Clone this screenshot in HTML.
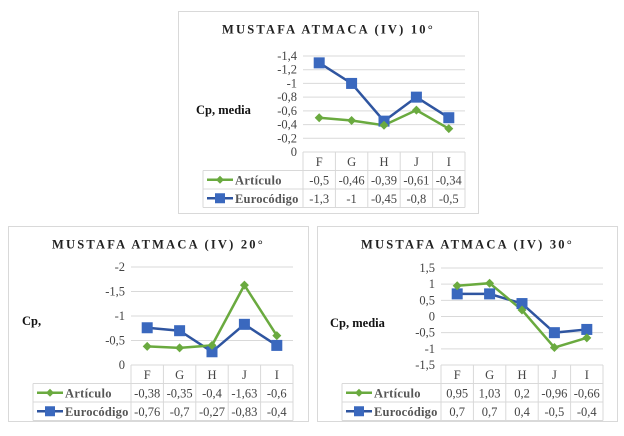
<!DOCTYPE html>
<html><head><meta charset="utf-8"><style>
body{margin:0;background:#fff;width:624px;height:431px;overflow:hidden;font-family:"Liberation Serif",serif}
svg text{font-family:"Liberation Serif",serif}
</style></head><body>
<svg id="s" width="624" height="431" viewBox="0 0 624 431" xmlns="http://www.w3.org/2000/svg"></svg>
<script>
const categories=["F","G","H","J","I"];
const art10=[-0.5,-0.46,-0.39,-0.61,-0.34];
const euro10=[-1.3,-1,-0.45,-0.8,-0.5];
const lab10a=["-0,5","-0,46","-0,39","-0,61","-0,34"];
const lab10e=["-1,3","-1","-0,45","-0,8","-0,5"];
const ticks10=[0,-0.2,-0.4,-0.6,-0.8,-1,-1.2,-1.4];
const tickLab10=["0","-0,2","-0,4","-0,6","-0,8","-1","-1,2","-1,4"];
const art20=[-0.38,-0.35,-0.4,-1.63,-0.6];
const euro20=[-0.76,-0.7,-0.27,-0.83,-0.4];
const lab20a=["-0,38","-0,35","-0,4","-1,63","-0,6"];
const lab20e=["-0,76","-0,7","-0,27","-0,83","-0,4"];
const ticks20=[0,-0.5,-1,-1.5,-2];
const tickLab20=["0","-0,5","-1","-1,5","-2"];
const art30=[0.95,1.03,0.2,-0.96,-0.66];
const euro30=[0.7,0.7,0.4,-0.5,-0.4];
const lab30a=["0,95","1,03","0,2","-0,96","-0,66"];
const lab30e=["0,7","0,7","0,4","-0,5","-0,4"];
const ticks30=[-1.5,-1,-0.5,0,0.5,1,1.5];
const tickLab30=["-1,5","-1","-0,5","0","0,5","1","1,5"];

const NS="http://www.w3.org/2000/svg";
const S=document.getElementById('s');
function el(t,a,p){const e=document.createElementNS(NS,t);for(const k in a)e.setAttribute(k,a[k]);(p||S).appendChild(e);return e;}
function txt(x,y,s,a,p){const e=el('text',Object.assign({x:x,y:y},a),p);e.textContent=s;return e;}

function chart(c){
  const g=el('g',{});
  
  
  const b=el('rect',{x:c.bx,y:c.by,width:c.bw,height:c.bh,fill:'#fff',stroke:'#d9d9d9','stroke-width':1},g);
  
  
  const t=txt(c.bx+c.bw/2,c.by+22,c.title,{'text-anchor':'middle','font-size':12.5,'font-weight':'bold','letter-spacing':'2.2',fill:'#222'},g);
  
  
  const yl=txt(c.ylx,c.yly,c.ytitle,{'font-size':12.5,'font-weight':'bold',fill:'#111'},g);
  
  
  const n=categories.length, cw=(c.px2-c.px1)/n;
  const tmin=c.ticks[0], tmax=c.ticks[c.ticks.length-1];
  const yS=v=>c.y0+(v-tmin)/(tmax-tmin)*(c.ytop-c.y0);
  const xS=i=>c.px1+cw*(i+0.5);
  c.ticks.forEach((v,i)=>{
    const l=el('line',{x1:c.px1,x2:c.px2,y1:yS(v),y2:yS(v),stroke:'#d9d9d9','stroke-width':1},g);
    
    
    const tl=txt(c.px1-6,yS(v)+4,c.tickLab[i],{'text-anchor':'end','font-size':12.5,fill:'#444'},g);
    
    
  });
  const r0=c.y0, rh=18.5, tl=c.tl;
  [r0+rh,r0+2*rh,r0+3*rh].forEach(y=>{
    const l=el('line',{x1:tl,x2:c.px2,y1:y,y2:y,stroke:'#d9d9d9'},g);
    
    
  });
  for(let i=0;i<=n;i++){
    const x=c.px1+cw*i;
    const l=el('line',{x1:x,x2:x,y1:r0,y2:r0+3*rh,stroke:'#d9d9d9'},g);
    
    
  }
  const lv=el('line',{x1:tl,x2:tl,y1:r0+rh,y2:r0+3*rh,stroke:'#d9d9d9'},g);
  
  
  categories.forEach((k,i)=>{
    const ct=txt(xS(i),r0+14,k,{'text-anchor':'middle','font-size':12.5,fill:'#444'},g);
    
    
    const a=txt(xS(i),r0+rh+14,c.la[i],{'text-anchor':'middle','font-size':12.5,fill:'#444'},g);
    
    
    const e=txt(xS(i),r0+2*rh+14,c.le[i],{'text-anchor':'middle','font-size':12.5,fill:'#444'},g);
    
    
  });
  const lg1=el('g',{},g);
  
  
  const ly1=r0+rh+rh/2;
  el('line',{x1:tl+4,x2:tl+30,y1:ly1,y2:ly1,stroke:'#6aaa3f','stroke-width':2.5},lg1);
  el('path',{d:`M${tl+17} ${ly1-4}l4 4l-4 4l-4-4z`,fill:'#6aaa3f'},lg1);
  txt(tl+32,ly1+4.5,'Artículo',{'font-size':12.5,'font-weight':'bold',fill:'#555','letter-spacing':'0.3'},lg1);
  const lg2=el('g',{},g);
  
  
  const ly2=r0+2*rh+rh/2;
  el('line',{x1:tl+4,x2:tl+30,y1:ly2,y2:ly2,stroke:'#2f55a0','stroke-width':2.5},lg2);
  el('rect',{x:tl+12,y:ly2-5,width:10,height:10,fill:'#3a68be'},lg2);
  txt(tl+32,ly2+4.5,'Eurocódigo',{'font-size':12.5,'font-weight':'bold',fill:'#555','letter-spacing':'0.2'},lg2);
  const pe=el('polyline',{points:c.e.map((v,i)=>xS(i)+','+yS(v)).join(' '),fill:'none',stroke:'#2f55a0','stroke-width':2.5},g);
  
  
  const pa=el('polyline',{points:c.a.map((v,i)=>xS(i)+','+yS(v)).join(' '),fill:'none',stroke:'#6aaa3f','stroke-width':2.5},g);
  
  
  c.e.forEach((v,i)=>{
    const m=el('rect',{x:xS(i)-5.5,y:yS(v)-5.5,width:11,height:11,fill:'#3a68be'},g);
    
    
  });
  c.a.forEach((v,i)=>{
    const x=xS(i),y=yS(v);
    const m=el('path',{d:`M${x} ${y-4.5}l4.5 4.5l-4.5 4.5l-4.5-4.5z`,fill:'#6aaa3f'},g);
    
    
  });
}
chart({name:'chart-10deg',title:'MUSTAFA ATMACA (IV) 10°',bx:178.5,by:11.5,bw:300,bh:202,px1:303,px2:465,y0:152,ytop:56,ticks:ticks10,tickLab:tickLab10,a:art10,e:euro10,la:lab10a,le:lab10e,tl:203,ylx:196,yly:114,ytitle:'Cp, media'});
chart({name:'chart-20deg',title:'MUSTAFA ATMACA (IV) 20°',bx:8.5,by:226.5,bw:300,bh:195,px1:131,px2:293,y0:365,ytop:267,ticks:ticks20,tickLab:tickLab20,a:art20,e:euro20,la:lab20a,le:lab20e,tl:33,ylx:22,yly:325,ytitle:'Cp,'});
chart({name:'chart-30deg',title:'MUSTAFA ATMACA (IV) 30°',bx:317.5,by:226.5,bw:300,bh:195,px1:441,px2:603,y0:365,ytop:268,ticks:ticks30,tickLab:tickLab30,a:art30,e:euro30,la:lab30a,le:lab30e,tl:342,ylx:330,yly:327,ytitle:'Cp, media'});
</script>
</body></html>
